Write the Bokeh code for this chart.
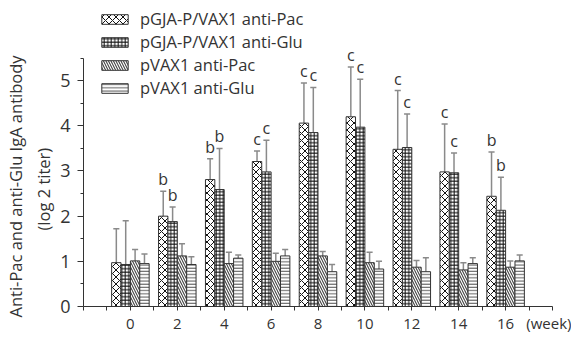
from bokeh.plotting import figure
from bokeh.models import Range1d, FixedTicker, Legend, LegendItem, ColumnDataSource, Title
from bokeh.core.properties import value
from bokeh.embed import file_html
from bokeh.resources import INLINE

weeks = [0, 2, 4, 6, 8, 10, 12, 14, 16]
series_names = ["pGJA-P/VAX1 anti-Pac", "pGJA-P/VAX1 anti-Glu", "pVAX1 anti-Pac", "pVAX1 anti-Glu"]
gja_pac = [0.97, 2.00, 2.81, 3.21, 4.06, 4.20, 3.48, 2.98, 2.44]
gja_pac_sd = [0.75, 0.55, 0.46, 0.23, 0.89, 1.10, 1.30, 1.06, 0.98]
gja_glu = [0.93, 1.88, 2.59, 2.98, 3.85, 3.97, 3.52, 2.96, 2.13]
gja_glu_sd = [0.97, 0.32, 0.91, 0.70, 1.00, 1.06, 0.74, 0.44, 0.73]
vax_pac = [1.01, 1.12, 0.95, 1.00, 1.12, 0.97, 0.87, 0.81, 0.87]
vax_pac_sd = [0.25, 0.27, 0.25, 0.18, 0.10, 0.23, 0.15, 0.16, 0.14]
vax_glu = [0.95, 0.93, 1.07, 1.12, 0.77, 0.83, 0.77, 0.95, 1.01]
vax_glu_sd = [0.21, 0.17, 0.07, 0.14, 0.16, 0.17, 0.31, 0.13, 0.13]
letters_pac = ["", "b", "b", "c", "c", "c", "c", "c", "b"]
letters_glu = ["", "b", "b", "c", "c", "c", "c", "c", "b"]
x_unit_label = "(week)"
y_label_lines = ["Anti-Pac and anti-Glu IgA antibody", "(log 2 titer)"]

FONT = "Open Sans"
TXT = "#333333"

p = figure(width=571, height=335, output_backend="svg", toolbar_location=None,
           x_range=Range1d(-2, 18), y_range=Range1d(0, 6.73),
           min_border_left=80, min_border_right=19, min_border_top=2, min_border_bottom=18)
p.outline_line_color = None
p.grid.grid_line_color = None
p.background_fill_color = "white"
p.border_fill_color = "white"

means = [gja_pac, gja_glu, vax_pac, vax_glu]
sds = [gja_pac_sd, gja_glu_sd, vax_pac_sd, vax_glu_sd]
offsets = [-0.6, -0.2, 0.2, 0.6]
hatches = [("x", 7, 1.0, "#111111"), ("+", 3.5, 1.0, "#111111"),
           ("\\", 5, 1.1, "#444444"), ("-", 3.2, 1.0, "#555555")]

items = []
for i in range(4):
    xs = [w + offsets[i] for w in weeks]
    tops = [m + s for m, s in zip(means[i], sds[i])]
    src = ColumnDataSource(dict(x=xs, top=means[i], err=tops))
    p.segment(x0="x", y0="top", x1="x", y1="err", source=src, line_color="#8a8a8a", line_width=1.5)
    p.segment(x0=[x - 0.13 for x in xs], y0=tops, x1=[x + 0.13 for x in xs], y1=tops,
              line_color="#8a8a8a", line_width=1.5)
    pat, sc, wt, hc = hatches[i]
    r = p.vbar(x="x", top="top", bottom=0, width=0.4, source=src,
               fill_color="white", line_color="#333333", line_width=1,
               hatch_pattern=pat, hatch_scale=sc, hatch_weight=wt, hatch_color=hc)
    items.append(LegendItem(label=series_names[i], renderers=[r]))

for i, lets in [(0, letters_pac), (1, letters_glu)]:
    xs = [w + offsets[i] for w in weeks]
    tops = [m + s for m, s in zip(means[i], sds[i])]
    p.text(x=xs, y=tops, text=lets, text_align="center", text_baseline="bottom",
           y_offset=-1, text_font=value(FONT), text_font_size="16px", text_color=TXT)

legend = Legend(items=items, location=(15, 207), orientation="vertical",
                glyph_width=33, glyph_height=12, label_height=22, spacing=0,
                padding=0, margin=0, label_standoff=9, border_line_color=None,
                background_fill_alpha=0, label_text_font=FONT,
                label_text_font_size="16.5px", label_text_color=TXT)
p.add_layout(legend)

xa = p.xaxis[0]
xa.ticker = FixedTicker(ticks=list(range(-2, 19)))
ov = {t: "" for t in range(-2, 19)}
for w in weeks:
    ov[w] = str(w)
ov[18] = x_unit_label
xa.major_label_overrides = ov
xa.minor_tick_line_color = None
xa.major_tick_in = 0
xa.major_tick_out = 4
xa.major_label_standoff = 2
xa.axis_line_color = "#333333"
xa.major_tick_line_color = "#333333"
xa.major_label_text_font = FONT
xa.major_label_text_font_size = "15px"
xa.major_label_text_color = TXT

ya = p.yaxis[0]
ya.ticker = FixedTicker(ticks=[0, 1, 2, 3, 4, 5], minor_ticks=[0.5, 1.5, 2.5, 3.5, 4.5, 5.5])
ya.bounds = (0, 5.5)
ya.major_tick_in = 0
ya.major_tick_out = 6
ya.minor_tick_in = 0
ya.minor_tick_out = 3
ya.major_label_standoff = 7
ya.axis_line_color = "#333333"
ya.major_tick_line_color = "#333333"
ya.minor_tick_line_color = "#333333"
ya.major_label_text_font = FONT
ya.major_label_text_font_size = "18px"
ya.major_label_text_color = TXT

# two-line y-axis title, both lines centred on the drawn axis (0..5.5)
for line, standoff, off in [(y_label_lines[1], 5, 76), (y_label_lines[0], 2, -11)]:
    t = Title(text=line, align="left", offset=off, standoff=standoff,
              text_font=FONT, text_font_size="16.5px", text_font_style="normal",
              text_color=TXT)
    p.add_layout(t, "left")

open("out.html", "w").write(file_html(p, INLINE))
